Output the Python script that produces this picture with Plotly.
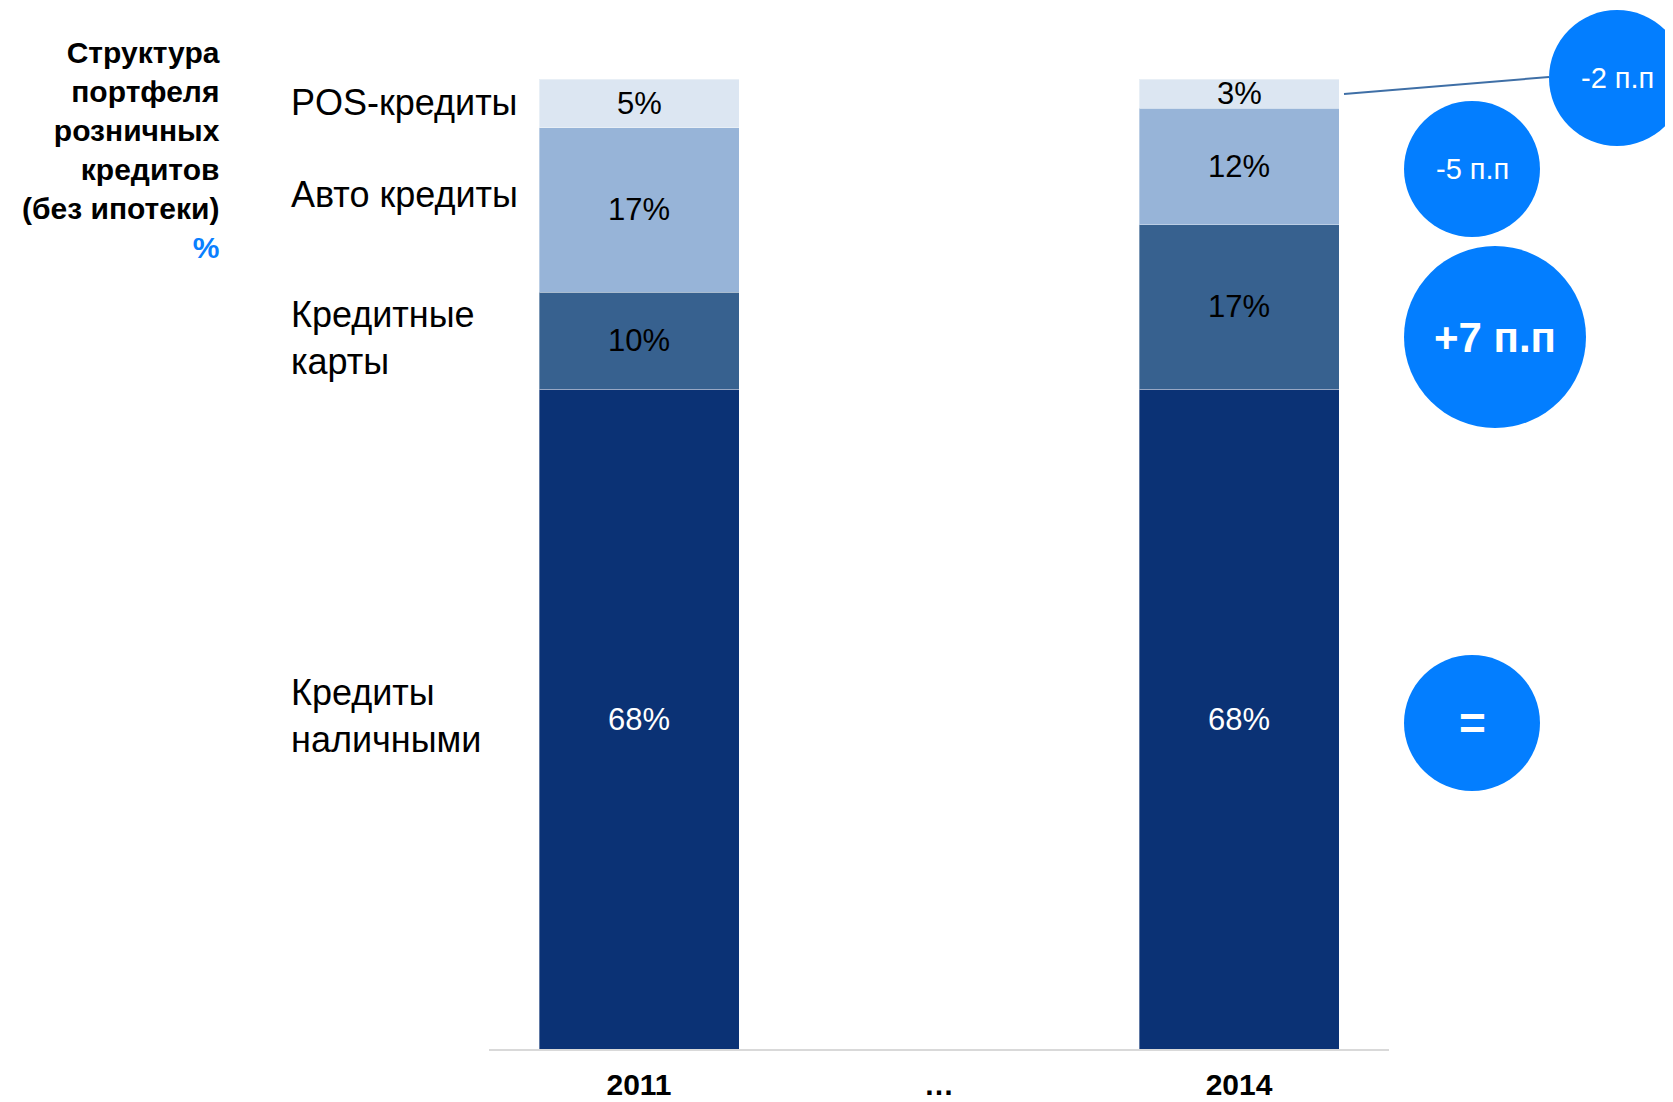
import plotly.graph_objects as go

# ---- data ----
years = ["2011", "…", "2014"]
cash = [68, None, 68]
cards = [10, None, 17]
auto = [17, None, 12]
pos = [5, None, 3]
series_names = ["Кредиты наличными", "Кредитные карты", "Авто кредиты", "POS-кредиты"]
series_colors = ["#0B3275", "#37618F", "#97B4D8", "#DCE6F2"]
label_colors = ["white", "black", "black", "black"]
left_labels = ["Кредиты<br>наличными", "Кредитные<br>карты", "Авто кредиты", "POS-кредиты"]
changes = ["=", "+7 п.п", "-5 п.п", "-2 п.п"]
title_lines = ["Структура", "портфеля", "розничных", "кредитов", "(без ипотеки)"]
unit = "%"

FONT = "Liberation Sans, Arial, sans-serif"
OFF = 8  # default page body margin
W, H = 1673 - OFF, 1102 - OFF
# plot area in screen pixels
SL, SR, ST, SB = 489, 1389, 79, 1049
L, R, T, B = SL - OFF, SR - OFF, ST - OFF, SB - OFF


def px(x):
    return (x - SL) / (SR - SL)


def py(y):
    return (SB - y) / (SB - ST)


series = [cash, cards, auto, pos]
fig = go.Figure()
for vals, name, col in zip(series, series_names, series_colors):
    fig.add_trace(go.Bar(x=years, y=vals, name=name,
                         marker=dict(color=col, line=dict(width=1, color="rgba(255,255,255,0.35)")),
                         hoverinfo="skip"))

annotations = []
# value labels centred in segments
for i, yr in enumerate(years):
    base = 0
    for vals, lc in zip(series, label_colors):
        v = vals[i]
        if v is None:
            continue
        annotations.append(dict(x=i, y=base + v / 2, xref="x", yref="y", text=f"{v}%", showarrow=False,
                                xanchor="center", yanchor="middle",
                                font=dict(family=FONT, size=31, color=lc)))
        base += v

# left series labels aligned with 2011 segments
base = 0
shifts = [3, 3, 15, 1]
for vals, lab, sh in zip(series, left_labels, shifts):
    v = vals[0]
    annotations.append(dict(x=px(289), y=base + v / 2, xref="paper", yref="y", text=lab, showarrow=False,
                            xanchor="left", yanchor="middle", align="left", yshift=sh,
                            font=dict(family=FONT, size=36, color="black")))
    base += v

# title block
title_text = "<br>".join(title_lines) + f"<br><span style='color:#0A7FFF'>{unit}</span>"
annotations.append(dict(x=px(222), y=py(150), xref="paper", yref="paper", text="<b>" + title_text + "</b>",
                        showarrow=False, xanchor="right", align="right", yanchor="middle",
                        font=dict(family=FONT, size=30, color="black")))

# change bubbles (centre x, centre y, radius, font size, bold) in screen px
bubbles = [(1472, 723, 68, 46, True), (1495, 337, 91, 42, True), (1472, 169, 68, 29, False),
           (1617, 78, 68, 29, False)]
shapes = []
for (cx, cy, r, fs, bold), txt in zip(bubbles, changes):
    shapes.append(dict(type="circle", xref="paper", yref="paper", x0=px(cx - r), x1=px(cx + r),
                       y0=py(cy + r), y1=py(cy - r), fillcolor="#037EFF", line=dict(width=0), layer="above"))
    annotations.append(dict(x=px(cx), y=py(cy), xref="paper", yref="paper",
                            text=("<b>" + txt + "</b>") if bold else txt, showarrow=False,
                            xanchor="center", yanchor="middle",
                            font=dict(family=FONT, size=fs, color="white")))

# connector line from POS 2014 to bubble
shapes.append(dict(type="line", xref="paper", yref="paper", x0=px(1344), y0=py(94), x1=px(1549), y1=py(77),
                   line=dict(color="#3F6FA6", width=2), layer="below"))

fig.update_layout(
    width=W, height=H,
    barmode="stack", bargap=1 / 3,
    showlegend=False,
    plot_bgcolor="white", paper_bgcolor="white",
    margin=dict(l=L, r=W - R, t=T, b=H - B, autoexpand=False),
    annotations=annotations, shapes=shapes,
    xaxis=dict(type="category", range=[-0.5, 2.5], showline=True, linecolor="#D9D9D9", linewidth=2,
               showgrid=False, zeroline=False, ticks="outside", ticklen=8, tickcolor="rgba(0,0,0,0)",
               tickfont=dict(family=FONT, size=30, color="black"),
               tickvals=years, ticktext=[f"<b>{y}</b>" for y in years]),
    yaxis=dict(range=[0, 100], showgrid=False, zeroline=False, showticklabels=False, showline=False),
)

fig.write_html("out.html")
